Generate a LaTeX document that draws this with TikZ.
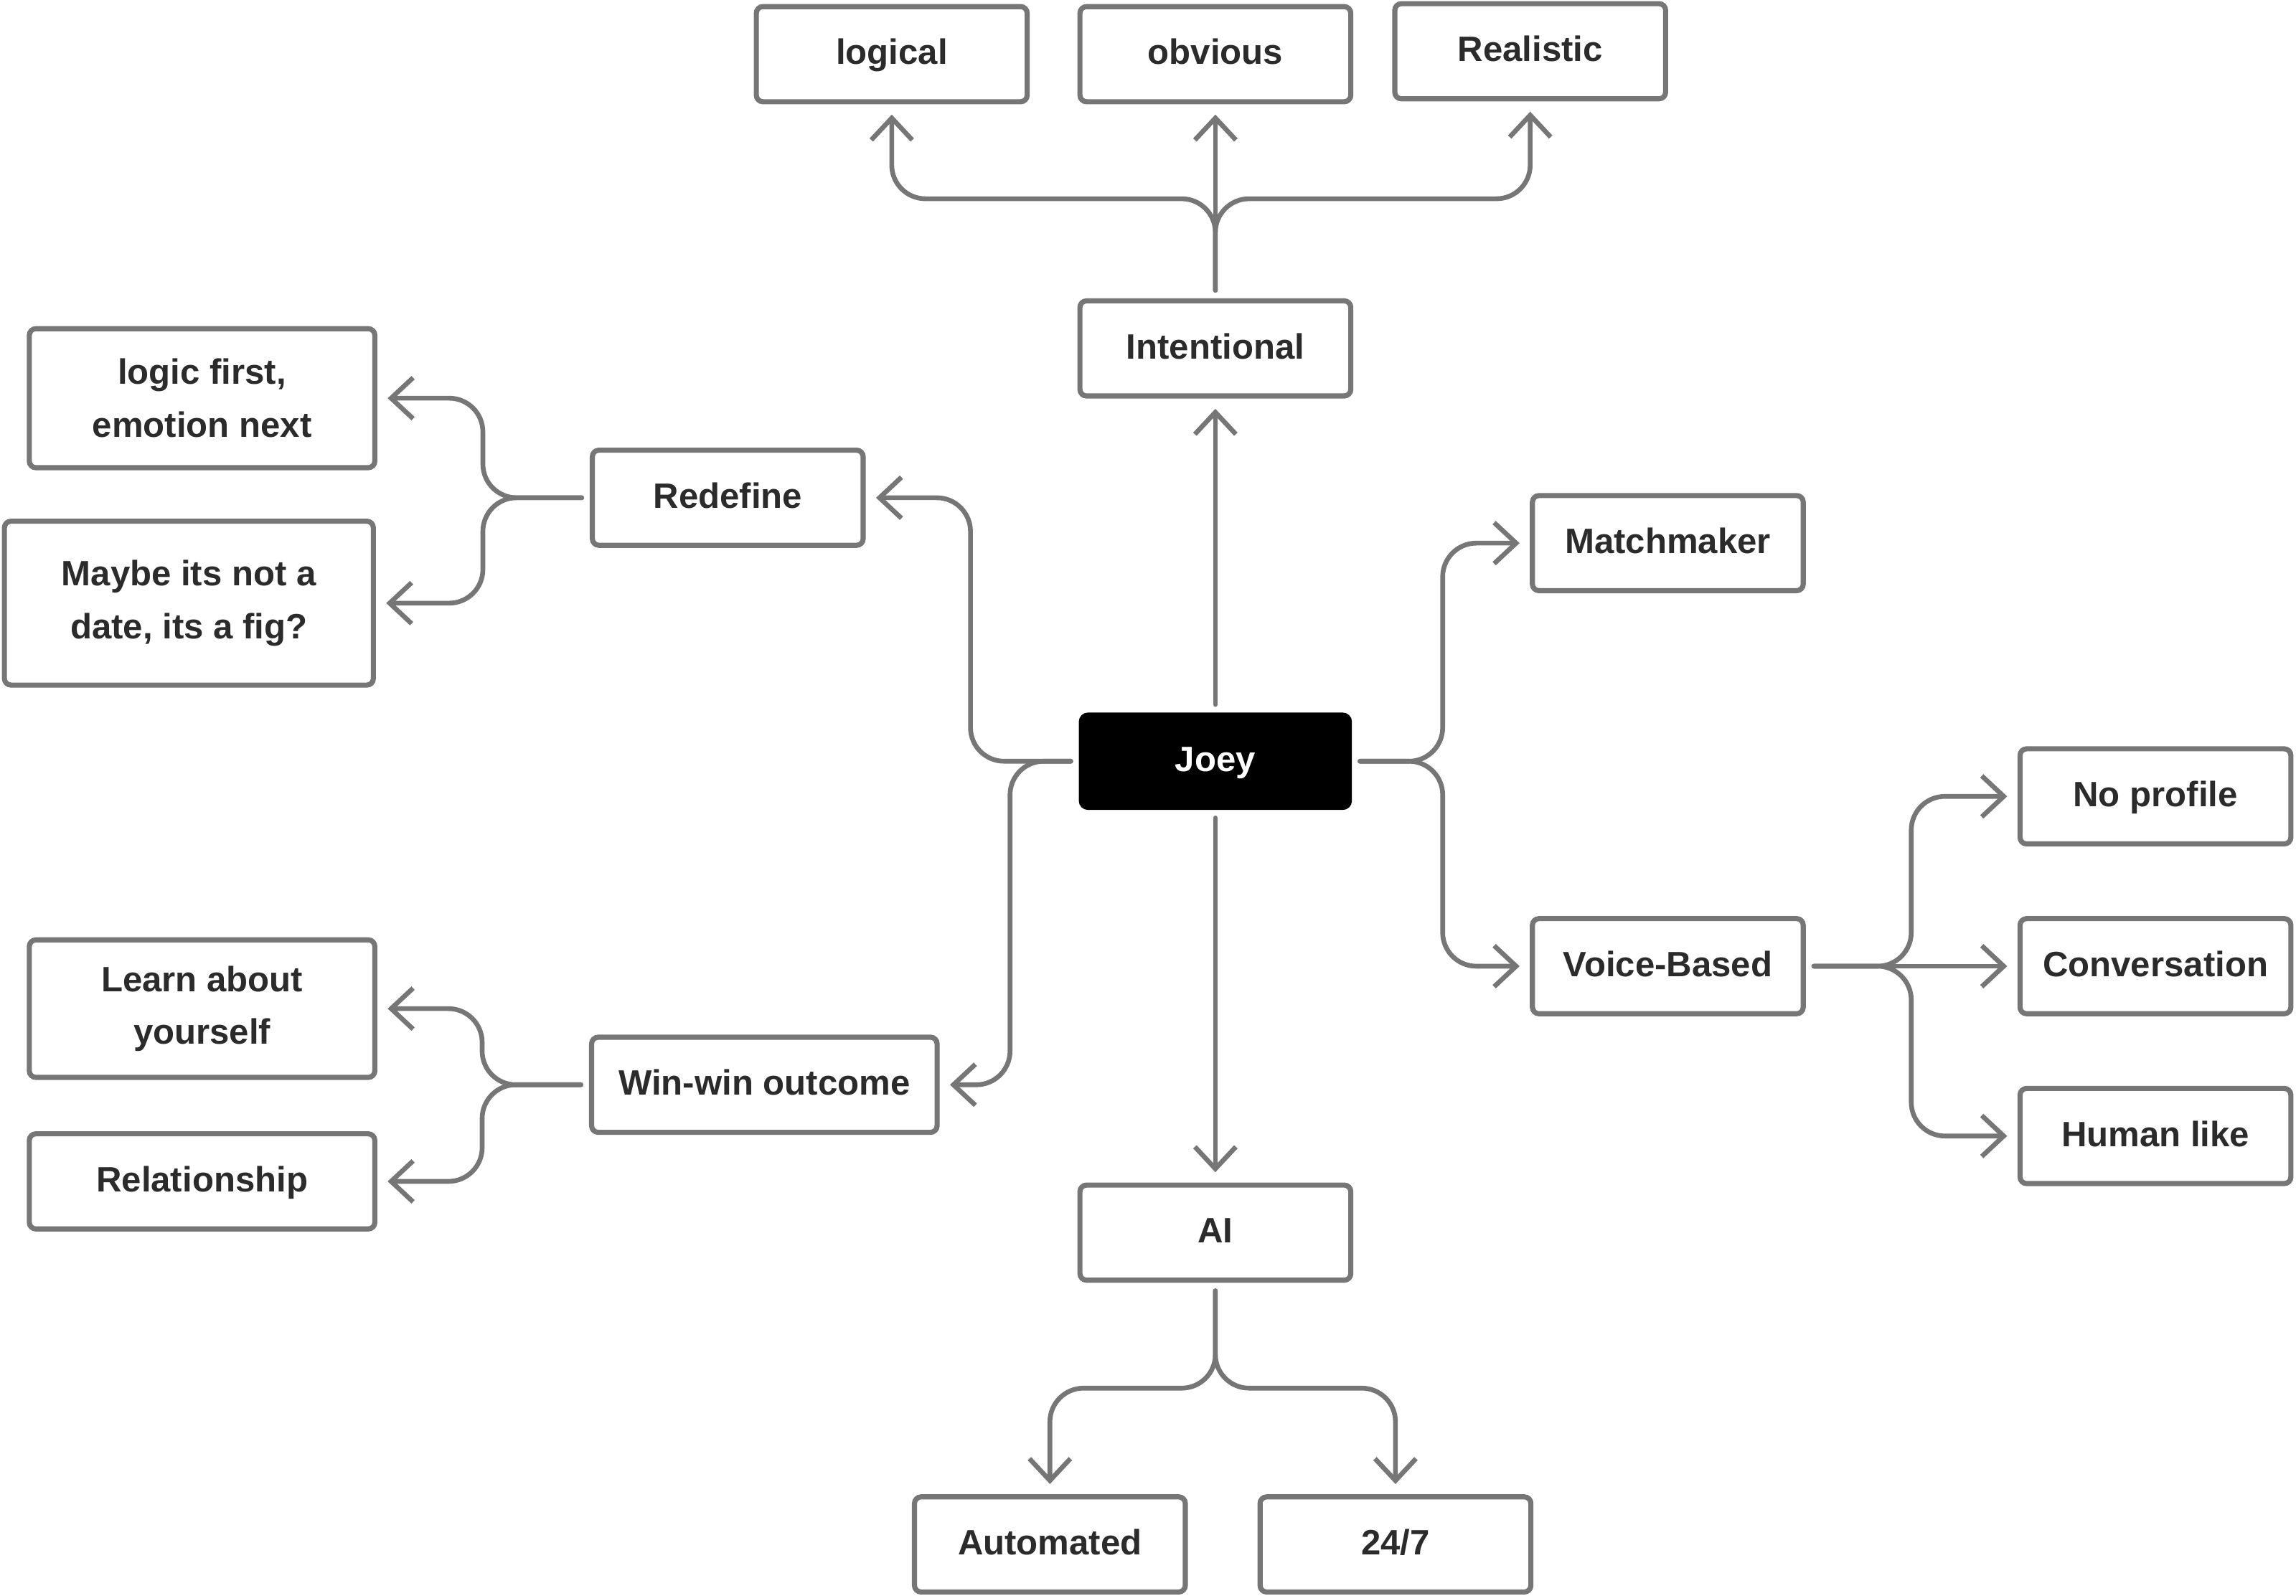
\documentclass[tikz,border=0pt]{standalone}
\usepackage{fontspec}
\setmainfont{Liberation Sans}
\usepackage{tikz}
\usetikzlibrary{arrows.meta}
\usepackage{xcolor}
\definecolor{grigiobordo}{RGB}{118,118,118}
\definecolor{testoscuro}{RGB}{43,43,43}

\begin{document}
\begin{tikzpicture}[x = 0.02cm, y = -0.02cm,
    scatola/.style = {draw = grigiobordo, line width = 0.07cm, rounded corners = 0.09cm, fill = white, text = testoscuro, minimum width = 3.7cm, minimum height = 1.3cm, inner sep = 0pt, align = center, font = \fontsize{13.7}{20.5}\selectfont\bfseries},
    riga/.style = {scatola, text height = 0.8em, text depth = 0pt},
    larga/.style = {minimum width = 4.72cm},
    radice/.style = {riga, draw = black, fill = black, text = white, minimum width = 3.66cm, minimum height = 1.26cm},
    freccia/.style = {draw = grigiobordo, line width = 0.065cm, line cap = round, line join = round, rounded corners = \raggio cm, shorten <= 0.11cm, shorten >= 0.14cm, -{Straight Barb[length = 0.3cm, width = 0.56cm]}}]
    %Parametri
    \pgfmathsetmacro{\raggio}{0.46}
    \useasboundingbox (0,0) rectangle (1568,1090);
    % Nodo centrale
    \node[radice] (joey) at (830,520) {Joey};
    % Ramo in alto
    \node[riga] (intenz) at (830,238) {Intentional};
    \node[riga] (logico) at (609,37) {logical};
    \node[riga] (ovvio) at (830,37) {obvious};
    \node[riga] (realist) at (1045,35) {Realistic};
    % Ramo a sinistra
    \node[riga] (redef) at (497,340) {Redefine};
    \node[scatola, larga, minimum height = 1.9cm] (logica) at (138,272) {logic first,\\emotion next};
    \node[scatola, minimum width = 5.04cm, minimum height = 2.24cm] (forse) at (129,412) {Maybe its not a\\date, its a fig?};
    \node[riga, larga] (winwin) at (522,741) {Win-win outcome};
    \node[scatola, larga, minimum height = 1.88cm] (impara) at (138,689) {Learn about\\yourself};
    \node[riga, larga] (relaz) at (138,807) {Relationship};
    % Ramo a destra
    \node[riga] (match) at (1139,371) {Matchmaker};
    \node[riga] (voce) at (1139,660) {Voice-Based};
    \node[riga] (noprof) at (1472,544) {No profile};
    \node[riga] (conv) at (1472,660) {Conversation};
    \node[riga] (umano) at (1472,776) {Human like};
    % Ramo in basso
    \node[riga] (ai) at (830,842) {AI};
    \node[riga] (autom) at (717,1055) {Automated};
    \node[riga] (sempre) at (953,1055) {24/7};
    % Frecce dal nodo centrale
    \draw[freccia] (joey.north) -- (intenz.south);
    \draw[freccia] (joey.south) -- (ai.north);
    \draw[freccia] (joey.west) -- ++(-74,0) |- (redef.east);
    \draw[freccia] (joey.west) -- ++(-47,0) |- (winwin.east);
    \draw[freccia] (joey.east) -- ++(62,0) |- (match.west);
    \draw[freccia] (joey.east) -- ++(62,0) |- (voce.west);
    % Frecce di Intentional
    \draw[freccia] (intenz.north) -- (ovvio.south);
    \draw[freccia] (intenz.north) -- ++(0,-68) -| (logico.south);
    \draw[freccia] (intenz.north) -- ++(0,-68) -| (realist.south);
    % Frecce di Redefine e Win-win outcome
    \draw[freccia] (redef.west) -- ++(-73,0) |- (logica.east);
    \draw[freccia] (redef.west) -- ++(-73,0) |- (forse.east);
    \draw[freccia] (winwin.west) -- ++(-73,0) |- (impara.east);
    \draw[freccia] (winwin.west) -- ++(-73,0) |- (relaz.east);
    % Frecce di Voice-Based
    \draw[freccia] (voce.east) -- (conv.west);
    \draw[freccia] (voce.east) -- ++(72,0) |- (noprof.west);
    \draw[freccia] (voce.east) -- ++(72,0) |- (umano.west);
    % Frecce di AI
    \draw[freccia] (ai.south) -- ++(0,72) -| (autom.north);
    \draw[freccia] (ai.south) -- ++(0,72) -| (sempre.north);
\end{tikzpicture}
\end{document}
